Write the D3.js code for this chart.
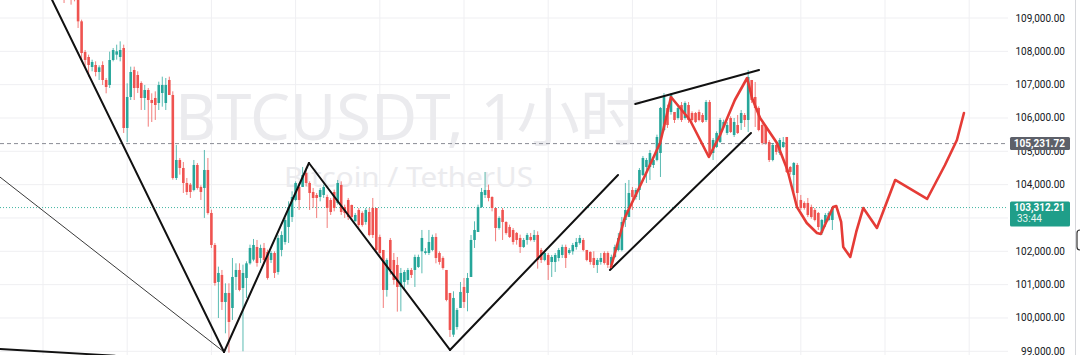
<!DOCTYPE html>
<html>
<head>
<meta charset="utf-8">
<script src="https://cdn.jsdelivr.net/npm/d3@7"></script>
<style>
    html, body { margin: 0; padding: 0; background: #fff; }
    svg { display: block; }
</style>
</head>
<body>
<div id="chart"></div>
<script>
// BTCUSDT 1h, candles are hourly; hour 0 sits on a day boundary
const firstHour = 5;

const opens = [
    110200, 110000, 109800, 109900, 109700, 109650, 108900, 107980, 107830, 107530,
    107590, 107380, 107590, 107140, 106990, 107740, 107900, 107830, 108100, 105700,
    106630, 107440, 107290, 107050, 106600, 106840, 106540, 106600, 106450, 106750,
    106450, 107140, 106690, 104200, 104740, 104500, 104050, 104000, 103840, 104590,
    103930, 103900, 104440, 103150, 102190, 101080, 101290, 100480, 100750, 100300,
    101230, 101440, 100900, 101200, 101640, 101750, 102130, 101800, 102100, 101980,
    101740, 101950, 101380, 102040, 102280, 102730, 103030, 103540, 103930, 103930,
    104350, 104050, 103780, 103690, 103630, 103690, 103630, 103540, 103780, 103450,
    103990, 103330, 103540, 103390, 102900, 103240, 103150, 102880, 103180, 103300,
    103300, 102430, 102040, 100840, 102340, 101740, 101590, 100930, 101080, 101140,
    101440, 101440, 101530, 102000, 101950, 101950, 102040, 102430, 101950, 101800,
    101440, 100750, 99500, 99730, 100300, 100930, 100750, 101230, 102340, 102580,
    103330, 103690, 103840, 103630, 103300, 102700, 103240, 102880, 102730, 102640,
    102550, 102400, 102130, 102340, 102430, 102340, 102490, 102040, 101740, 101890,
    101680, 101680, 101800, 101890, 102130, 101950, 102000, 102130, 102250, 102340,
    102040, 101980, 101800, 101590, 101680, 101950, 101950, 101590, 101830, 102040,
    102040, 102940, 103030, 103840, 103630, 103840, 104290, 104530, 104530, 104590,
    104740, 104950, 105640, 106300, 106180, 106180, 106000, 106390, 106000, 106390,
    106150, 106150, 106180, 106090, 105940, 106480, 104950, 105130, 105280, 105730,
    105550, 106000, 105490, 105790, 105850, 106090, 105940, 107140, 106630, 106300,
    105790, 105730, 105280, 104740, 105190, 104950, 105130, 105430, 104530, 104290,
    104590, 103540, 103450, 103450, 103330, 103240, 103150, 102550, 102850, 102940,
    102940
];
const highs = [
    110400, 110200, 110100, 110000, 109900, 109700, 108950, 108040, 107900, 107750,
    107700, 107580, 107700, 107200, 107990, 108100, 108200, 108300, 108200, 107040,
    107540, 107540, 107400, 107100, 106990, 106900, 106740, 106800, 107090, 107240,
    107200, 107240, 106800, 105190, 104800, 104680, 104200, 104050, 104740, 104650,
    103980, 105040, 104800, 103250, 102250, 101540, 101440, 101040, 101040, 101800,
    101640, 101640, 101600, 101700, 102200, 102370, 102340, 102200, 102250, 102050,
    102010, 102000, 102490, 102600, 103000, 103500, 103800, 104100, 104050, 104530,
    104500, 104100, 103900, 103750, 103900, 104000, 103700, 103600, 103850, 104140,
    104100, 103400, 103600, 103400, 103150, 103300, 103200, 103300, 103300, 103600,
    103300, 102500, 102040, 101790, 102400, 101950, 101830, 101500, 101440, 101500,
    101500, 101900, 101900, 102640, 102100, 102640, 102500, 102540, 102000, 101850,
    101440, 100750, 100800, 100300, 101080, 101200, 101350, 102490, 102900, 103400,
    103900, 104380, 104000, 103650, 103300, 103050, 103300, 102900, 102800, 102700,
    102580, 102500, 102400, 102550, 102550, 102640, 102600, 102100, 102000, 101950,
    101890, 101950, 102100, 102200, 102200, 102100, 102250, 102400, 102490, 102400,
    102040, 102000, 102000, 101800, 101950, 102000, 102000, 101900, 102200, 102550,
    103030, 104050, 104140, 103930, 103900, 104500, 104860, 104800, 105040, 104800,
    105500, 106330, 106750, 106400, 106750, 106180, 106400, 106480, 106500, 106480,
    106200, 106180, 106250, 106150, 106540, 106540, 105400, 105600, 106000, 105950,
    105880, 106050, 106000, 106090, 106240, 106150, 107440, 107140, 107080, 106350,
    105850, 105780, 105340, 105250, 105250, 105400, 105430, 105430, 104560, 104680,
    104650, 103690, 103500, 103600, 103400, 103300, 103180, 102970, 103150, 103200,
    103330
];
const lows = [
    109800, 109450, 109600, 109400, 109500, 108700, 107700, 107500, 107240, 107400,
    107250, 107140, 106990, 106740, 106900, 107700, 107750, 107700, 105550, 105280,
    106540, 106540, 106750, 106240, 106240, 105740, 105880, 105940, 106240, 106340,
    106240, 106690, 104150, 104140, 104300, 103750, 103690, 103600, 103800, 103850,
    103540, 103000, 103100, 102100, 100970, 100000, 100240, 99540, 98960, 99940,
    100840, 100800, 99000, 100600, 101600, 101700, 101540, 101650, 101650, 101150,
    101650, 101200, 101300, 101850, 102200, 102250, 102880, 103500, 103240, 103930,
    103950, 103240, 103300, 103000, 103500, 103600, 102700, 103090, 103200, 103400,
    103090, 103000, 102940, 102940, 102900, 102700, 102740, 102800, 102450, 102400,
    101980, 101800, 100300, 100640, 101300, 101000, 100190, 100200, 100870, 101000,
    101200, 100930, 101500, 101340, 101900, 101890, 102000, 101640, 101600, 101450,
    100500, 99430, 99430, 99650, 100300, 100300, 100200, 101230, 102100, 102580,
    103300, 103600, 103500, 103200, 102300, 102650, 102340, 102500, 102400, 102200,
    102200, 101950, 102100, 102200, 102300, 102280, 101480, 101650, 101700, 101140,
    101230, 101380, 101700, 101800, 101500, 101900, 101900, 102050, 102200, 102000,
    101700, 101600, 101500, 101350, 101600, 101600, 101500, 101540, 101800, 102000,
    102000, 102730, 103030, 103240, 103550, 103540, 104260, 104050, 104140, 104500,
    104700, 104230, 105600, 105700, 106100, 105850, 105950, 105880, 105950, 105850,
    105900, 105850, 105900, 105850, 105880, 104830, 104740, 105100, 105250, 105700,
    105490, 105550, 105430, 105520, 105640, 105730, 105580, 106450, 105730, 105600,
    105200, 105200, 104680, 104700, 104900, 104890, 105100, 104350, 104300, 103780,
    103330, 103240, 103250, 103030, 102980, 102900, 102640, 102490, 102730, 102900,
    102640
];
const closes = [
    110000, 109800, 109900, 109700, 109650, 108900, 107950, 107740, 107590, 107680,
    107380, 107520, 107140, 106930, 107740, 108040, 108000, 108040, 105700, 106630,
    107380, 106900, 106900, 106600, 106840, 106540, 106450, 106390, 106990, 106990,
    106990, 106690, 104200, 104740, 104500, 104050, 103780, 103780, 104590, 103900,
    103780, 104440, 103150, 102190, 101050, 101350, 100480, 100750, 99880, 101230,
    101440, 100840, 101350, 101640, 102100, 102190, 101650, 102100, 101740, 101200,
    101950, 101350, 102400, 102490, 102940, 103330, 103630, 104050, 103540, 104290,
    104050, 103750, 103600, 103600, 103840, 103930, 103300, 103180, 103300, 104050,
    103180, 103150, 103030, 103030, 103090, 102790, 102790, 103240, 102490, 102490,
    102040, 101950, 100840, 101740, 101440, 101140, 100930, 101350, 101380, 101440,
    101290, 101830, 101830, 102400, 102000, 102280, 102430, 101800, 101680, 101500,
    100540, 99640, 100600, 100240, 100780, 100480, 101200, 102340, 102640, 103330,
    103780, 103840, 103600, 103300, 102700, 103000, 102880, 102550, 102430, 102280,
    102340, 102130, 102340, 102490, 102340, 102490, 101740, 101740, 101950, 101590,
    101830, 101890, 102040, 102130, 101800, 102040, 102190, 102280, 102400, 102040,
    101740, 101680, 101590, 101740, 101800, 101650, 101590, 101830, 102130, 102400,
    102880, 103240, 103750, 103630, 103840, 104440, 104800, 104740, 104950, 104740,
    105430, 106300, 106630, 105790, 106690, 105940, 106300, 105940, 106450, 105940,
    105940, 105880, 105940, 105880, 106480, 104890, 105340, 105550, 105940, 105880,
    105790, 105580, 105880, 105550, 106150, 105940, 107230, 106540, 106300, 105640,
    105250, 105250, 104740, 105190, 104980, 105340, 105280, 104380, 104380, 104650,
    103750, 103300, 103300, 103090, 103030, 102940, 102730, 102940, 103090, 103150,
    103312.21
];

const priceTicks = [99000, 100000, 101000, 102000, 103000, 104000, 105000, 106000, 107000, 108000, 109000];
const dayTicks = [0, 24, 48, 72, 96, 120, 144, 168, 192, 216, 240, 264];

const lastPrice = 103312.21;
const countdown = '33:44';
const refPrice = 105231.72;

const symbolTitle = 'BTCUSDT, 1小时';
const symbolName = 'Bitcoin / TetherUS';

// hand drawn trend lines, [hour, price] pairs
const trendLines = [
    [[2.6, 109540], [51.6, 98980]],
    [[-12.3, 99070], [20.5, 98870]],
    [[51.6, 98980], [75.8, 104650]],
    [[75.8, 104650], [116.0, 99040]],
    [[116.0, 99040], [163.9, 104290]],
    [[161.6, 101440], [201.8, 105550]],
    [[168.8, 106420], [204.1, 107440]]
];
const thinLine = [[-12.3, 104230], [51.6, 98980]];

const forecastPath = [
    [161.9, 101530], [165.8, 103000], [171.4, 104230], [175.9, 105250], [179.0, 106630],
    [184.4, 105940], [189.8, 104830], [193.0, 105490], [197.2, 106540], [200.7, 107200],
    [202.1, 106600], [204.4, 106000], [209.2, 105250], [212.2, 104440], [214.9, 103330],
    [217.7, 102850], [220.6, 102550], [221.7, 102520], [225.2, 103330], [226.1, 103360],
    [227.5, 102880], [228.1, 102130], [230.1, 101830], [231.8, 102580], [233.8, 103300],
    [237.7, 102700], [242.9, 104140], [252.0, 103570], [257.1, 104590], [260.5, 105340],
    [262.5, 106150]
];

const W = 1080, H = 355;
const paneRight = 1008;
const upColor = '#26a69a';
const downColor = '#ef5350';

const x = d3.scaleLinear().domain([0, 24]).range([43, 127.2]);
const y = d3.scaleLinear().domain([99000, 109000]).range([351.3, 18]);

const candles = closes.map((c, i) => ({
    t: firstHour + i, o: opens[i], h: highs[i], l: lows[i], c: c
}));

const svg = d3.select('#chart')
    .append('svg')
    .attr('width', W)
    .attr('height', H);

svg.append('defs').append('clipPath').attr('id', 'pane')
    .append('rect')
    .attr('x', 0).attr('y', 0)
    .attr('width', paneRight).attr('height', H);

// grid
svg.append('g')
    .selectAll('line')
    .data(priceTicks)
    .join('line')
    .attr('x1', 0).attr('x2', paneRight)
    .attr('y1', d => y(d)).attr('y2', d => y(d))
    .attr('stroke', '#efeff2');

svg.append('g')
    .selectAll('line')
    .data(dayTicks)
    .join('line')
    .attr('x1', d => x(d)).attr('x2', d => x(d))
    .attr('y1', 0).attr('y2', H)
    .attr('stroke', '#efeff2');

// watermark
svg.append('text')
    .attr('x', 175).attr('y', 140)
    .attr('textLength', 468)
    .attr('lengthAdjust', 'spacingAndGlyphs')
    .attr('font-family', '"Noto Sans", "Noto Sans CJK SC", sans-serif')
    .attr('font-size', 63)
    .attr('fill', '#ebebee')
    .text(symbolTitle);

svg.append('text')
    .attr('x', 284).attr('y', 187)
    .attr('textLength', 249)
    .attr('lengthAdjust', 'spacingAndGlyphs')
    .attr('font-family', '"Noto Sans", sans-serif')
    .attr('font-size', 28)
    .attr('fill', '#ebebee')
    .text(symbolName);

const pane = svg.append('g').attr('clip-path', 'url(#pane)');

// price lines
pane.append('line')
    .attr('x1', 0).attr('x2', paneRight)
    .attr('y1', y(refPrice)).attr('y2', y(refPrice))
    .attr('stroke', '#8a8d96')
    .attr('stroke-dasharray', '4,3');

pane.append('line')
    .attr('x1', 0).attr('x2', paneRight)
    .attr('y1', y(lastPrice)).attr('y2', y(lastPrice))
    .attr('stroke', '#3fb5a2')
    .attr('stroke-dasharray', '1,2');

// candles
const cg = pane.append('g');
cg.selectAll('line')
    .data(candles)
    .join('line')
    .attr('x1', d => x(d.t)).attr('x2', d => x(d.t))
    .attr('y1', d => y(d.h)).attr('y2', d => y(d.l))
    .attr('stroke', d => d.c >= d.o ? upColor : downColor)
    .attr('stroke-width', 1)
    .attr('opacity', 0.75);

cg.selectAll('rect')
    .data(candles)
    .join('rect')
    .attr('x', d => x(d.t) - 1.3)
    .attr('width', 2.6)
    .attr('y', d => y(Math.max(d.o, d.c)))
    .attr('height', d => Math.max(1, Math.abs(y(d.o) - y(d.c))))
    .attr('fill', d => d.c >= d.o ? upColor : downColor);

// drawings
const line = d3.line().x(d => x(d[0])).y(d => y(d[1]));

pane.append('path')
    .attr('d', line(thinLine))
    .attr('fill', 'none')
    .attr('stroke', '#3a3a3a')
    .attr('stroke-width', 1);

pane.selectAll('path.trend')
    .data(trendLines)
    .join('path')
    .attr('class', 'trend')
    .attr('d', line)
    .attr('fill', 'none')
    .attr('stroke', '#111')
    .attr('stroke-width', 2)
    .attr('stroke-linecap', 'round');

pane.append('path')
    .attr('d', line(forecastPath))
    .attr('fill', 'none')
    .attr('stroke', '#e53b36')
    .attr('stroke-width', 2.6)
    .attr('stroke-linejoin', 'round')
    .attr('stroke-linecap', 'round');

// price scale; the label sitting fully under the last-price tag is not shown
const tagTop = y(lastPrice) - 6, tagBottom = y(lastPrice) + 19;
const axisLabels = priceTicks.filter(d => y(d) < tagTop - 3 || y(d) > tagBottom + 3);

const axis = svg.append('g');
axis.selectAll('text')
    .data(axisLabels)
    .join('text')
    .attr('x', 1065)
    .attr('y', d => y(d) + 3.5)
    .attr('text-anchor', 'end')
    .attr('font-family', 'Roboto, sans-serif')
    .attr('font-size', 10)
    .attr('fill', '#131722')
    .text(d => d3.format(',.2f')(d));

// price tags
axis.append('rect')
    .attr('x', 1010).attr('y', y(refPrice) - 6.5)
    .attr('width', 60).attr('height', 13)
    .attr('rx', 1.5)
    .attr('fill', '#5d6069');
axis.append('text')
    .attr('x', 1065).attr('y', y(refPrice) + 3.5)
    .attr('text-anchor', 'end')
    .attr('font-family', 'Roboto, sans-serif')
    .attr('font-size', 10)
    .attr('font-weight', 'bold')
    .attr('fill', '#fff')
    .text(d3.format(',.2f')(refPrice));

axis.append('rect')
    .attr('x', 1010).attr('y', tagTop)
    .attr('width', 60).attr('height', tagBottom - tagTop)
    .attr('rx', 1.5)
    .attr('fill', '#1f9e89');
axis.append('text')
    .attr('x', 1065).attr('y', y(lastPrice) + 3.5)
    .attr('text-anchor', 'end')
    .attr('font-family', 'Roboto, sans-serif')
    .attr('font-size', 10)
    .attr('font-weight', 'bold')
    .attr('fill', '#fff')
    .text(d3.format(',.2f')(lastPrice));
axis.append('text')
    .attr('x', 1017).attr('y', y(lastPrice) + 14.5)
    .attr('font-family', 'Roboto, sans-serif')
    .attr('font-size', 10)
    .attr('fill', '#e8f5f2')
    .text(countdown);

// window edge
svg.append('line')
    .attr('x1', 1075.5).attr('x2', 1075.5)
    .attr('y1', 0).attr('y2', H)
    .attr('stroke', '#d6d7db');
svg.append('path')
    .attr('d', 'M1084,230 L1080,230 Q1077,230 1077,233 L1077,247 Q1077,250 1080,250 L1084,250')
    .attr('fill', 'none')
    .attr('stroke', '#333')
    .attr('stroke-width', 1.2);
</script>
</body>
</html>
